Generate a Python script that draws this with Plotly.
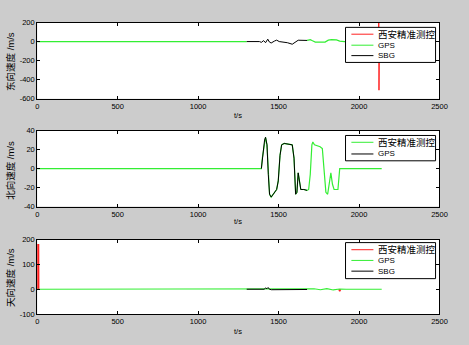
import plotly.graph_objects as go

# ---------------- data ----------------
x_ticks = [0, 500, 1000, 1500, 2000, 2500]
x_ticktext = ["0", "500", "1000", "1500", "2000", "2500"]

# panel 1 : east velocity
y1_ticks = [-600, -400, -200, 0, 200]
y1_ticktext = ["-600", "-400", "-200", "0", "200"]
east_ref_t = [2120, 2123, 2124, 2127]
east_ref_v = [0, 260, -510, 0]
east_gps_t = [0, 1302, None, 1677, 1697, 1711, 1728, 1789, 1809, 1829, 1860, 1880, 1910, 2130]
east_gps_v = [0, 0, None, 12, 20, 8, -5, -5, 15, 20, 18, 5, 0, 0]
east_sbg_t = [1302, 1381, 1393, 1407, 1419, 1433, 1443, 1454, 1474, 1488, 1504, 1525, 1555, 1585, 1606, 1622, 1677]
east_sbg_v = [0, 0, -8, 10, -12, 25, -5, -15, 5, 15, 0, -3, -12, -28, -5, 14, 12]
legend1 = ["西安精准测控", "GPS", "SBG"]

# panel 2 : north velocity
y2_ticks = [-40, -20, 0, 20, 40]
y2_ticktext = ["-40", "-20", "0", "20", "40"]
north_t = [0, 1393, 1399, 1413, 1419, 1428, 1436, 1444, 1454, 1464, 1476, 1488, 1498, 1509,
           1519, 1525, 1535, 1585, 1596, 1606, 1614, 1622, 1630, 1638, 1657, 1677, 1687,
           1697, 1707, 1713, 1723, 1758, 1772, 1784, 1794, 1805, 1815, 1825, 1835, 1845,
           1869, 1880, 2141]
north_v = [0, 0, 11, 30, 33, 25, -6, -27, -30, -27.5, -25, -22, -13, 14,
           25, 25.5, 26.5, 25, 11, -27, -25, -4.5, -16.5, -22, -22, -23, -22,
           -6, 25, 28, 25, 23, 21, -6, -25, -27, -16.5, -4.5, -16.5, -22,
           -22, 0, 0]
north_gps_start, north_gps_end = 1393, 1677
legend2 = ["西安精准测控", "GPS"]

# panel 3 : up velocity
y3_ticks = [-100, 0, 100, 200]
y3_ticktext = ["-100", "0", "100", "200"]
up_ref_t = [0, 1, 8, 9, None, 1875, 1880, 1885]
up_ref_v = [0, 180, 180, 0, None, 0, -8, 0]
up_gps_t = [0, 1677, 1720, 1760, 1800, 1840, 1880, 1920, 2141]
up_gps_v = [0, 0, 2, -2, 2, -3, 1, 0, 0]
up_sbg_t = [1302, 1410, 1420, 1428, 1435, 1443, 1455, 1677]
up_sbg_v = [0, 0, 5, 2, 7, 0, -2, -1]
legend3 = ["西安精准测控", "GPS", "SBG"]

ylabels = ["东向速度 /m/s", "北向速度 /m/s", "天向速度 /m/s"]
xlabel = "t/s"

# ---------------- styling ----------------
W, H = 469, 345
RED, GREEN, BLACK = "#ff2020", "#33ee33", "#000000"
FONT = "Liberation Sans, Arial, Noto Sans CJK SC, sans-serif"


def fx(p):
    return p / W


def fy(p):
    return 1 - p / H


plot_left, plot_right = 36, 447
panels = [(19, 97.3), (130, 208), (242, 318.3)]

fig = go.Figure()

# panel 1 traces
fig.add_trace(go.Scatter(x=east_ref_t, y=east_ref_v, mode="lines", line=dict(color=RED, width=1),
                         xaxis="x", yaxis="y", showlegend=False))
fig.add_trace(go.Scatter(x=east_gps_t, y=east_gps_v, mode="lines", line=dict(color=GREEN, width=1.2),
                         xaxis="x", yaxis="y", showlegend=False, connectgaps=False))
fig.add_trace(go.Scatter(x=east_sbg_t, y=east_sbg_v, mode="lines", line=dict(color=BLACK, width=1),
                         xaxis="x", yaxis="y", showlegend=False))

# panel 2 traces
fig.add_trace(go.Scatter(x=north_t, y=north_v, mode="lines", line=dict(color=GREEN, width=1.2),
                         xaxis="x2", yaxis="y2", showlegend=False))
i0 = north_t.index(north_gps_start)
i1 = north_t.index(north_gps_end)
fig.add_trace(go.Scatter(x=north_t[i0:i1 + 1], y=north_v[i0:i1 + 1], mode="lines",
                         line=dict(color=BLACK, width=1), xaxis="x2", yaxis="y2", showlegend=False))

# panel 3 traces
fig.add_trace(go.Scatter(x=up_ref_t, y=up_ref_v, mode="lines", line=dict(color=RED, width=1.5),
                         xaxis="x3", yaxis="y3", showlegend=False))
fig.add_trace(go.Scatter(x=up_gps_t, y=up_gps_v, mode="lines", line=dict(color=GREEN, width=1.2),
                         xaxis="x3", yaxis="y3", showlegend=False))
fig.add_trace(go.Scatter(x=up_sbg_t, y=up_sbg_v, mode="lines", line=dict(color=BLACK, width=1),
                         xaxis="x3", yaxis="y3", showlegend=False))

axis_common = dict(showline=True, linecolor="black", linewidth=1, mirror="ticks",
                   ticks="inside", ticklen=3, tickcolor="black", showgrid=False, zeroline=False,
                   tickfont=dict(family=FONT, size=7.5, color="black"), fixedrange=True)

yt = [(y1_ticks, y1_ticktext, [-600, 200]), (y2_ticks, y2_ticktext, [-40, 40]),
      (y3_ticks, y3_ticktext, [-100, 200])]
layout = {}
for i, ((top, bot), (tv, tt, rng)) in enumerate(zip(panels, yt)):
    s = "" if i == 0 else str(i + 1)
    layout["xaxis" + s] = dict(domain=[fx(plot_left), fx(plot_right)], range=[0, 2500],
                               tickvals=x_ticks, ticktext=x_ticktext, anchor="y" + s, **axis_common)
    layout["yaxis" + s] = dict(domain=[fy(bot), fy(top)], range=rng, tickvals=tv, ticktext=tt,
                               anchor="x" + s, **axis_common)

fig.update_layout(**layout)

annotations = []
shapes = []
# axis labels
label_y_centers = [59, 170.8, 280.8]
xlabel_y = [115, 223, 336]
for i in range(3):
    annotations.append(dict(text=ylabels[i], x=fx(8.7), y=fy(label_y_centers[i]), xref="paper",
                            yref="paper", textangle=-90, showarrow=False, xanchor="center",
                            yanchor="middle", font=dict(family=FONT, size=9.5, color="black")))
    annotations.append(dict(text=xlabel, x=fx(241), y=fy(xlabel_y[i]), xref="paper", yref="paper",
                            showarrow=False, xanchor="center", yanchor="middle",
                            font=dict(family=FONT, size=7.5, color="black")))

# legends (box, sample lines, labels) drawn above the data
legends = [
    (legend1, [RED, GREEN, BLACK], (24, 60), [31, 42.3, 53]),
    (legend2, [GREEN, BLACK], (135, 161), [142, 154]),
    (legend3, [RED, GREEN, BLACK], (245, 282), [252.3, 263.3, 274.3]),
]
for labels, colors, (btop, bbot), rows in legends:
    shapes.append(dict(type="rect", xref="paper", yref="paper", x0=fx(351), x1=fx(443),
                       y0=fy(bbot), y1=fy(btop), fillcolor="white", opacity=1,
                       line=dict(color="black", width=1), layer="above"))
    for lab, col, ry in zip(labels, colors, rows):
        shapes.append(dict(type="line", xref="paper", yref="paper", x0=fx(357), x1=fx(379.5),
                           y0=fy(ry), y1=fy(ry), line=dict(color=col, width=1), layer="above"))
        size = 9.5 if any(ord(c) > 127 for c in lab) else 8
        annotations.append(dict(text=lab, x=fx(382.5), y=fy(ry), xref="paper", yref="paper",
                                showarrow=False, xanchor="left", yanchor="middle",
                                font=dict(family=FONT, size=size, color="black")))

fig.update_layout(width=W, height=H, margin=dict(l=0, r=0, t=0, b=0),
                  paper_bgcolor="#cccccc", plot_bgcolor="white", showlegend=False,
                  annotations=annotations, shapes=shapes)

fig.write_html("out.html")
